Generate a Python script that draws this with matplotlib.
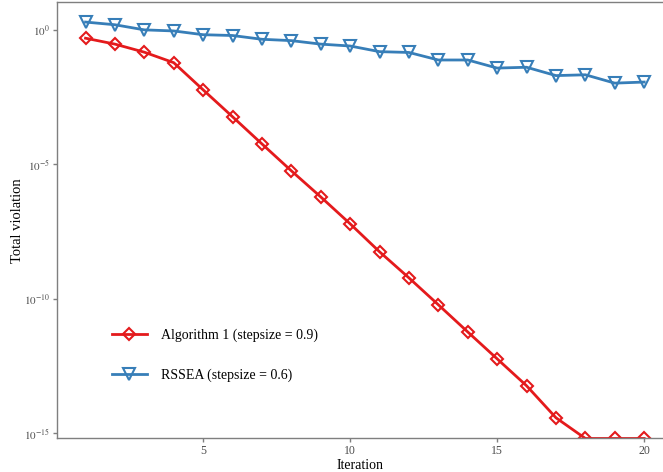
import matplotlib
matplotlib.use('Agg')
import matplotlib.pyplot as plt
from matplotlib.ticker import FixedLocator, FixedFormatter, NullLocator

plt.rcParams['font.family'] = ['Liberation Serif', 'DejaVu Serif']
plt.rcParams['mathtext.fontset'] = 'stix'

# data (log10 of total violation)
iterations = list(range(1, 21))
alg1_log = [-0.31, -0.53, -0.83, -1.22, -2.23, -3.23, -4.24, -5.24, -6.21, -7.21,
            -8.25, -9.22, -10.22, -11.23, -12.23, -13.23, -14.42, -15.19, -15.19, -15.19]
rssea_log = [0.29, 0.19, 0.0, -0.04, -0.18, -0.21, -0.35, -0.40, -0.53, -0.60,
             -0.81, -0.84, -1.12, -1.12, -1.42, -1.39, -1.70, -1.67, -1.98, -1.94]
alg1 = [10 ** v for v in alg1_log]
rssea = [10 ** v for v in rssea_log]

labels = ['Algorithm 1 (stepsize = 0.9)', 'RSSEA (stepsize = 0.6)']
ytick_vals = [1e0, 1e-5, 1e-10, 1e-15]
ytick_labels = [r'$10^{0}$', r'$10^{-5}$', r'$10^{-10}$', r'$10^{-15}$']
xtick_vals = [5, 10, 15, 20]

red = '#E41A1C'
blue = '#377EB8'
grey = '#4D4D4D'

fig = plt.figure(figsize=(6.63, 4.72), dpi=100)
ax = fig.add_axes([0.086, 0.071, 0.914, 0.925])

ax.plot(iterations, alg1, color=red, linewidth=2.0, marker='D', markersize=6.5,
        markerfacecolor='none', markeredgecolor=red, markeredgewidth=1.5, label=labels[0])
ax.plot(iterations, rssea, color=blue, linewidth=2.0, marker='v', markersize=8,
        markerfacecolor='none', markeredgecolor=blue, markeredgewidth=1.5, label=labels[1])

ax.set_yscale('log')
ax.set_ylim(10 ** -15.19, 10 ** 1.04)
ax.set_xlim(0.03, 20.64)

ax.yaxis.set_major_locator(FixedLocator(ytick_vals))
ax.yaxis.set_major_formatter(FixedFormatter(ytick_labels))
ax.yaxis.set_minor_locator(NullLocator())
ax.set_xticks(xtick_vals)

for side in ['left', 'bottom', 'top']:
    ax.spines[side].set_color('#7F7F7F')
    ax.spines[side].set_linewidth(1.0)
ax.spines['right'].set_visible(False)
ax.tick_params(axis='both', colors='#7F7F7F', labelcolor=grey, labelsize=8,
               length=3, width=1.0, direction='out', pad=2)
ax.tick_params(axis='x', labelsize=8.5)

ax.set_xlabel('Iteration', fontsize=10, labelpad=1)
ax.set_ylabel('Total violation', fontsize=10.5, labelpad=0)

leg = ax.legend(loc='lower left', bbox_to_anchor=(0.07, 0.1), frameon=False,
                fontsize=10, handlelength=2.5, labelspacing=1.9, handletextpad=1.0)

fig.savefig('out.png', dpi=100)
